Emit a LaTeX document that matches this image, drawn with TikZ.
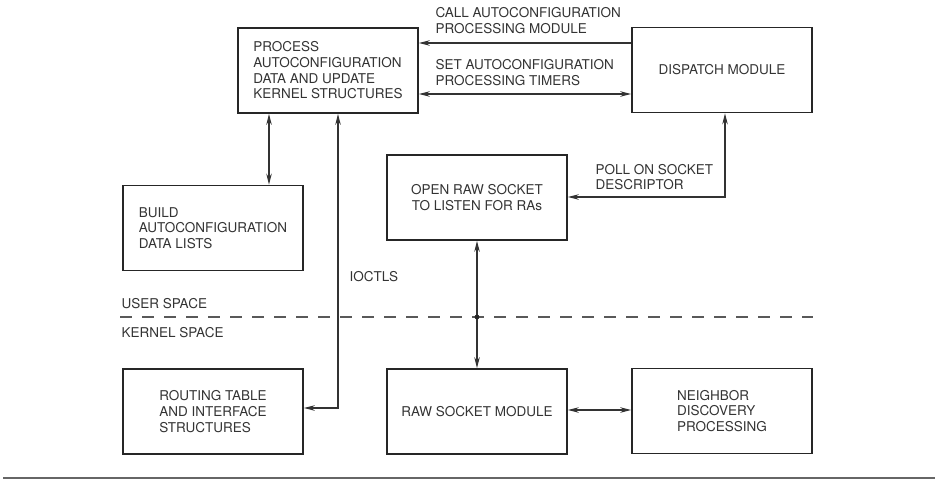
\documentclass[tikz,border=0pt]{standalone}
\usepackage{fontspec}
\setmainfont{TeX Gyre Heros}
\usetikzlibrary{arrows.meta}

\begin{document}
\begin{tikzpicture}[x=1pt, y=-1pt,
    box/.style={draw=black!85, line width=1.6pt, minimum width=180pt, minimum height=85pt,
        align=left, text=black!80, font=\fontsize{13.5}{15.7}\selectfont},
    lbl/.style={anchor=west, align=left, text=black!80, font=\fontsize{13.5}{15.7}\selectfont},
    tip/.tip={Stealth[length=11pt,width=5.5pt]},
    link/.style={draw=black!80, line width=1.1pt, tip-tip}]
    \useasboundingbox (0,0) rectangle (935,487);

    % user space blocks
    \node[box] (process) at (328,70.5) {PROCESS\\AUTOCONFIGURATION\\DATA AND UPDATE\\KERNEL STRUCTURES};
    \node[box, align=center] (dispatch) at (722,70) {DISPATCH MODULE};
    \node[box] (build) at (213,228) {BUILD\\AUTOCONFIGURATION\\DATA LISTS};
    \node[box, align=center] (openraw) at (477,197.5) {OPEN RAW SOCKET\\TO LISTEN FOR RAs};

    % kernel space blocks
    \node[box] (routing) at (213,411.5) {ROUTING TABLE\\AND INTERFACE\\STRUCTURES};
    \node[box, align=center] (rawsock) at (477,411.5) {RAW SOCKET MODULE};
    \node[box] (neighbor) at (722,411) {NEIGHBOR\\DISCOVERY\\PROCESSING};

    % rows and columns of the connectors
    \coordinate (callrow) at (0,43);
    \coordinate (setrow) at (0,94);
    \coordinate (pollrow) at (0,197);
    \coordinate (ioctlrow) at (0,408);
    \coordinate (nbrow) at (0,410);
    \coordinate (pbcol) at (269,0);
    \coordinate (ioctlcol) at (338,0);
    \coordinate (pollcol) at (725,0);

    % connectors
    \draw[link, tip-] (process.east |- callrow) -- (dispatch.west |- callrow);
    \draw[link] (process.east |- setrow) -- (dispatch.west |- setrow);
    \draw[link] (process.south -| pbcol) -- (build.north -| pbcol);
    \draw[link] (process.south -| ioctlcol) |- (routing.east |- ioctlrow);
    \draw[link] (openraw.east |- pollrow) -| (dispatch.south -| pollcol);
    \draw[link] (openraw.south) -- (rawsock.north);
    \draw[link] (rawsock.east |- nbrow) -- (neighbor.west |- nbrow);

    % connector labels
    \node[lbl] (calllbl) at (432,20.5) {CALL AUTOCONFIGURATION\\PROCESSING MODULE};
    \node[lbl] (setlbl) at (432,72.5) {SET AUTOCONFIGURATION\\PROCESSING TIMERS};
    \node[lbl] (polllbl) at (592,177) {POLL ON SOCKET\\DESCRIPTOR};
    \node[lbl] (ioctllbl) at (346,277) {IOCTLS};

    % user / kernel boundary
    \node[lbl] (userlbl) at (118,304) {USER SPACE};
    \node[lbl] (kernellbl) at (118,333) {KERNEL SPACE};
    \coordinate (cross) at (477,317);
    \draw[black!65, line width=1.2pt, dash pattern=on 12pt off 10pt] (120,317) -- (813,317);
    \fill[black!85] (cross) circle (2.4pt);

    % bottom rule
    \draw[black!60, line width=1.2pt] (3,478) -- (935,478);
\end{tikzpicture}
\end{document}
